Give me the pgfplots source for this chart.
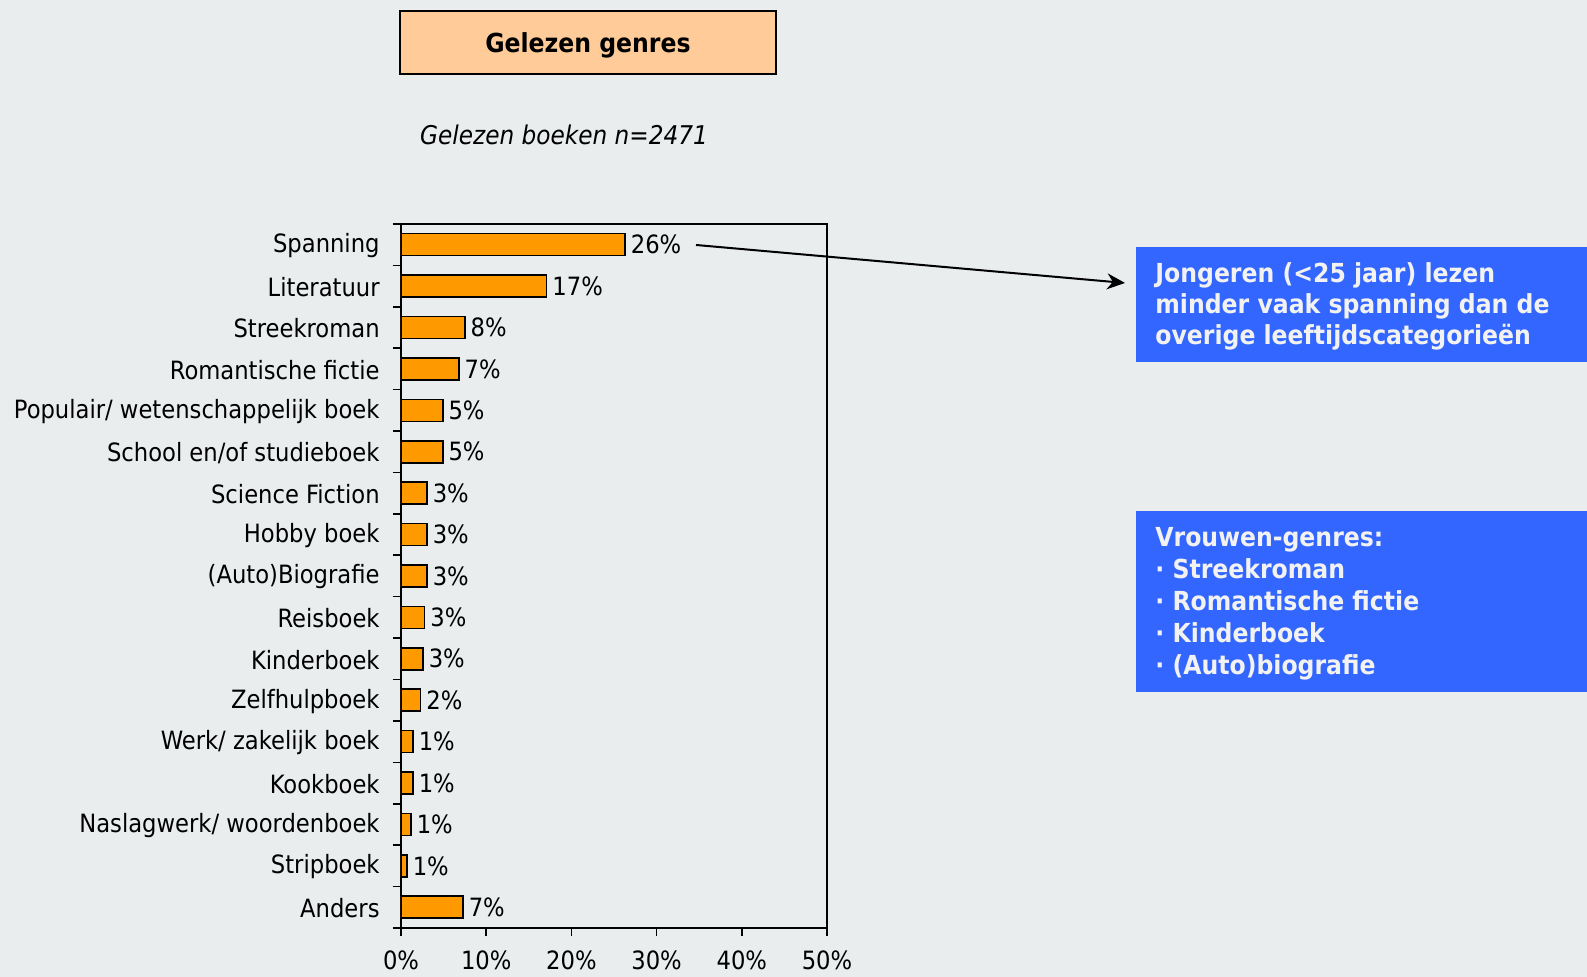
\documentclass[border=0pt]{standalone}
\usepackage{pgfplots}
\pgfplotsset{compat=1.18}
\usepackage{fontspec}
\setmainfont{DejaVu Sans Condensed}[BoldFont={DejaVu Sans Condensed Bold},ItalicFont={DejaVu Sans Condensed Oblique},BoldItalicFont={DejaVu Sans Condensed Bold Oblique}]
\usetikzlibrary{arrows.meta}
\definecolor{bgc}{RGB}{233,237,238}
\definecolor{titlec}{RGB}{255,204,153}
\definecolor{barc}{RGB}{255,153,0}
\definecolor{bluec}{RGB}{51,102,255}
\definecolor{boxtext}{RGB}{242,242,242}
\newcommand{\lblfont}{\fontsize{12.6}{14}\selectfont}
\newcommand{\boxfont}{\bfseries\fontsize{13.1}{16}\selectfont}
\begin{document}
\begin{tikzpicture}[x=0.5pt,y=0.5pt]
\useasboundingbox (0,0) rectangle (1587,977);
\clip (0,0) rectangle (1587,977);
\fill[bgc] (0,0) rectangle (1587,977);
\draw[fill=titlec, line width=1pt] (400,903) rectangle (776,966);
\node[anchor=base, font=\bfseries\fontsize{13.1}{16}\selectfont] at (588,924) {Gelezen genres};
\node[font=\itshape\fontsize{12.9}{16}\selectfont] at (564,842) {Gelezen boeken n=2471};
\begin{axis}[
  at={(200.5pt,24.5pt)}, anchor=south west,
  scale only axis, width=213pt, height=352pt,
  xbar, bar width=11pt,
  xmin=0, xmax=50, ymin=-0.5, ymax=16.5, y dir=reverse,
  axis line style={line width=0.8pt},
  tick style={line width=0.8pt, black},
  tick pos=left, tick align=outside,
  major tick length=0pt, minor tick length=4pt,
  /pgf/number format/assume math mode=true,
  xtick={0,10,20,30,40,50},
  minor xtick={0,10,20,30,40,50},
  xticklabel={\pgfmathprintnumber{\tick}\%},
  xticklabel style={font=\lblfont, anchor=north, yshift=-8pt},
  ytick={0,1,...,16},
  minor ytick={-0.5,0.5,...,16.5},
  yticklabels={Spanning,Literatuur,Streekroman,Romantische fictie,Populair/ wetenschappelijk boek,School en/of studieboek,Science Fiction,Hobby boek\ ,(Auto)Biografie,Reisboek,Kinderboek,Zelfhulpboek,Werk/ zakelijk boek,Kookboek,Naslagwerk/ woordenboek,Stripboek,Anders},
  yticklabel style={font=\lblfont, anchor=east, inner sep=0pt, xshift=-10.5pt, yshift=-0.5pt},
  point meta=explicit symbolic,
  nodes near coords,
  nodes near coords style={font=\lblfont, anchor=west, inner sep=2.5pt},
]
\addplot[draw=black, line width=0.8pt, fill=barc] coordinates {
 (26.3,0) [26\%]
 (17.1,1) [17\%]
 (7.5,2) [8\%]
 (6.8,3) [7\%]
 (4.9,4) [5\%]
 (4.9,5) [5\%]
 (3.05,6) [3\%]
 (3.05,7) [3\%]
 (3.05,8) [3\%]
 (2.78,9) [3\%]
 (2.58,10) [3\%]
 (2.3,11) [2\%]
 (1.41,12) [1\%]
 (1.41,13) [1\%]
 (1.17,14) [1\%]
 (0.7,15) [1\%]
 (7.28,16) [7\%]
};
\end{axis}
\draw[line width=1pt, -{Stealth[length=9pt,width=8pt]}] (696,732) -- (1125,694);
\fill[bluec] (1136,730) rectangle (1587,615);
\fill[bluec] (1136,466) rectangle (1587,285);
\begin{scope}[every node/.style={anchor=base west, inner sep=0pt, font=\boxfont, text=boxtext}]
\node at (1155,694) {Jongeren (<25 jaar) lezen};
\node at (1155,663) {minder vaak spanning dan de};
\node at (1155,632) {overige leeftijdscategorieën};
\node at (1155,430) {Vrouwen-genres:};
\node at (1155,398) {· Streekroman};
\node at (1155,366) {· Romantische fictie};
\node at (1155,334) {· Kinderboek};
\node at (1155,302) {· (Auto)biografie};
\end{scope}
\end{tikzpicture}
\end{document}
